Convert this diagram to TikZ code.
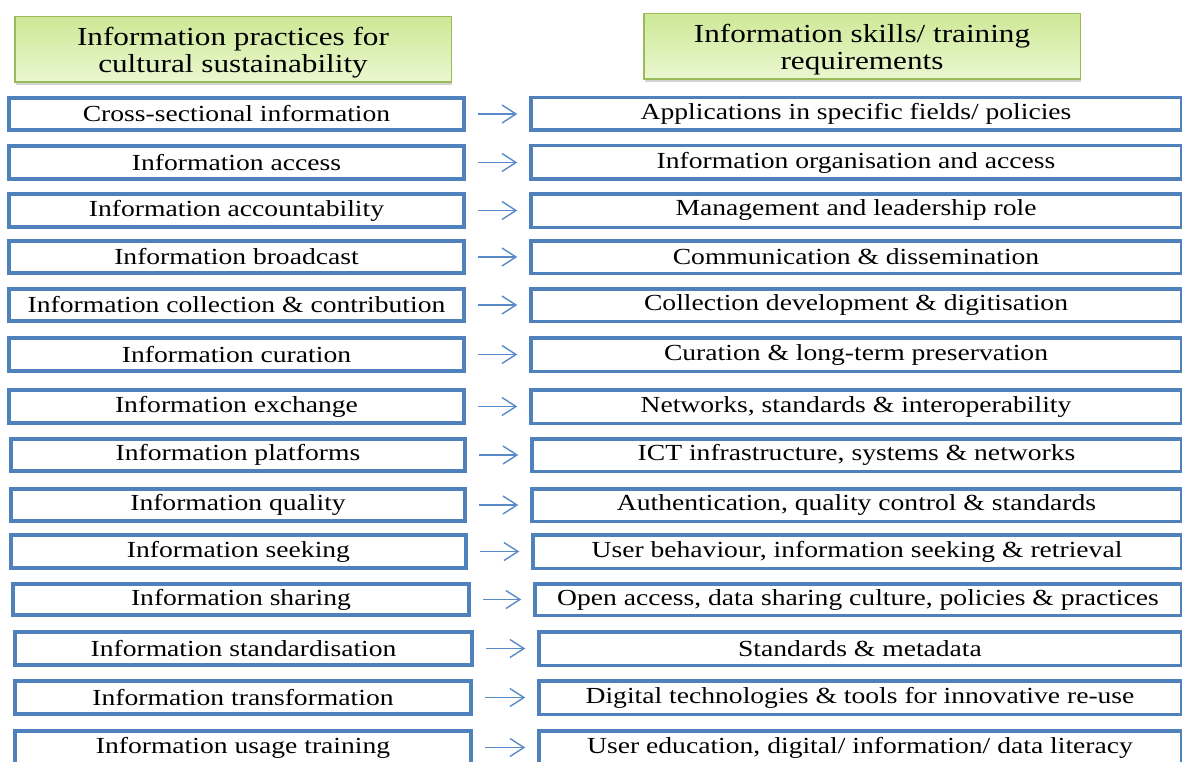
\documentclass[tikz,border=0pt]{standalone}
\usepackage{fontspec}
\setmainfont{Liberation Serif}[FakeStretch=1.2]
\usetikzlibrary{arrows.meta,shadows}
\definecolor{boxblue}{RGB}{79,129,189}
\definecolor{arrowblue}{RGB}{88,138,200}
\definecolor{hdrborder}{RGB}{155,187,89}
\definecolor{hdrtop}{RGB}{205,232,150}
\definecolor{hdrbot}{RGB}{234,248,208}
\newcommand\rowpair[8]{%
  \node[lbox, minimum width={(#3-#2-4)*1pt}, minimum height={(#5-#4-4)*1pt}]
    (L#1) at ({(#2+#3)/2},{(#4+#5)/2}) {#7};
  \node[rbox, minimum width={(1183-#6-3.5)*1pt}, minimum height={(#5-#4-3.5)*1pt}]
    (R#1) at ({(#6+1183)/2},{(#4+#5)/2}) {#8};
  \draw[link] (L#1.east) -- (L#1.east -| R#1.west);
}
\begin{document}
\begin{tikzpicture}[x=1pt,y=-1pt,
  lbox/.style={draw=boxblue, line width=4pt, fill=white, inner sep=0pt, outer sep=0pt,
    font=\fontsize{23}{27}\selectfont},
  rbox/.style={draw=boxblue, line width=3.5pt, fill=white, inner sep=0pt, outer sep=0pt,
    font=\fontsize{23}{27}\selectfont},
  hdr/.style={draw=hdrborder, line width=1.5pt, top color=hdrtop, bottom color=hdrbot,
    drop shadow={shadow xshift=1pt, shadow yshift=-3pt, opacity=0.35},
    align=center, inner sep=0pt, outer sep=0pt, font=\fontsize{26}{27.5}\selectfont},
  link/.style={draw=arrowblue, line width=1.4pt, shorten <=14pt, shorten >=13.5pt,
    -{Straight Barb[length=14pt,width=18pt]}}]
\useasboundingbox (0,0) rectangle (1182,762);
\node[hdr, minimum width=436.5pt, minimum height=65.5pt] (H1) at (233,49.5)
  {\rule{0pt}{25pt}Information\ practices\ for\\cultural\ sustainability};
\node[hdr, minimum width=436.5pt, minimum height=65.5pt] (H2) at (862,46.5)
  {\rule{0pt}{25pt}Information\ skills/ training\\requirements};
\rowpair{1}{7}{466}{96}{132}{529}{Cross-sectional information}{Applications in specific fields/ policies}
\rowpair{2}{7}{466}{144}{181}{529}{Information access}{Information organisation and access}
\rowpair{3}{7}{466}{192}{229}{529}{Information accountability}{Management and leadership role}
\rowpair{4}{7}{466}{239}{275}{529}{Information broadcast}{Communication \& dissemination}
\rowpair{5}{7}{466}{287}{323}{529}{Information collection \& contribution}{Collection development \& digitisation}
\rowpair{6}{7}{466}{336}{373}{529}{Information curation}{Curation \& long-term preservation}
\rowpair{7}{7}{466}{388}{425}{529}{Information exchange}{Networks, standards \& interoperability}
\rowpair{8}{9}{467}{437}{473}{530}{Information platforms}{ICT infrastructure, systems \& networks}
\rowpair{9}{9}{467}{487}{523}{530}{Information quality}{Authentication, quality control \& standards}
\rowpair{10}{9}{468}{533}{570}{531}{Information seeking}{User behaviour, information seeking \& retrieval}
\rowpair{11}{11}{471}{582}{617}{533}{Information sharing}{Open access, data sharing culture, policies \& practices}
\rowpair{12}{13}{474}{630}{667}{537}{Information standardisation}{Standards \& metadata}
\rowpair{13}{13}{473}{679}{716}{537}{Information transformation}{Digital technologies \& tools for innovative re-use}
\rowpair{14}{13}{473}{729}{766}{537}{Information usage training}{User education, digital/ information/ data literacy}
\end{tikzpicture}
\end{document}
